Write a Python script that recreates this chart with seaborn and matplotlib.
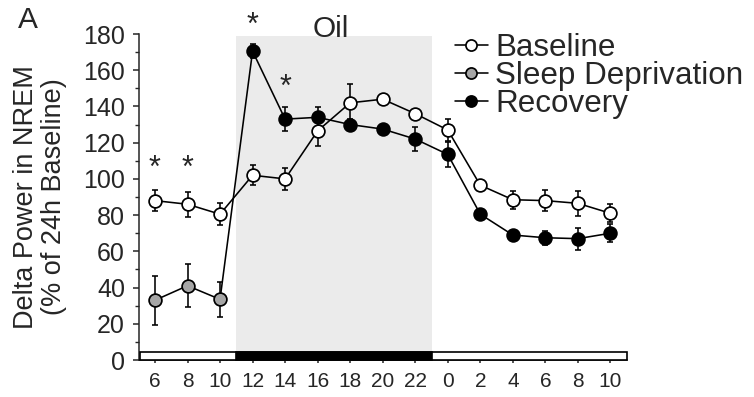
import numpy as np
import pandas as pd
import matplotlib
matplotlib.use("Agg")
import matplotlib.pyplot as plt
from matplotlib.lines import Line2D
from matplotlib.patches import Rectangle
from matplotlib.ticker import MultipleLocator
import seaborn as sns

# ---------------- data ----------------
hour_labels = ['6', '8', '10', '12', '14', '16', '18', '20', '22', '0', '2', '4', '6', '8', '10']
baseline = [88, 86, 80.5, 102, 100, 126.5, 142, 144, 136, 127, 96.5, 88.5, 88, 86.5, 81]
baseline_err = [6, 7, 6, 5.5, 6, 8.5, 10.5, 2.5, 2, 6, 2, 5, 6, 7, 5]
sd_pos = [0, 1, 2]
sleep_dep = [33, 41, 33.5]
sleep_dep_err = [13.5, 12, 9.5]
rec_pos = [3, 4, 5, 6, 7, 8, 9, 10, 11, 12, 13, 14]
recovery = [170.5, 133, 134, 130, 127.5, 122, 113.5, 80.5, 69, 67.5, 67, 70]
recovery_err = [4, 6.5, 5.5, 3, 2, 6.5, 7, 2, 2, 4, 6, 5]
star_pos = [0, 1, 3, 4]
star_y = [110, 110, 189, 155]
dark_start, dark_end = 2.5, 8.5
yticks = [0, 20, 40, 60, 80, 100, 120, 140, 160, 180]

# ---------------- style ----------------
sns.set_style("ticks")
plt.rcParams['font.family'] = ['Liberation Sans', 'DejaVu Sans']
plt.rcParams['axes.linewidth'] = 1.1

fig = plt.figure(figsize=(7.54, 3.97), dpi=100)
ax = fig.add_axes([138.7 / 754, 37 / 397, 488 / 754, 326 / 397])

x_all = np.arange(len(hour_labels))
df_base = pd.DataFrame({'x': x_all, 'y': baseline})
df_link = pd.DataFrame({'x': sd_pos + rec_pos, 'y': sleep_dep + recovery})
df_sd = pd.DataFrame({'x': sd_pos, 'y': sleep_dep})
df_rec = pd.DataFrame({'x': rec_pos, 'y': recovery})

# shaded "Oil" / dark period
ax.axvspan(dark_start, dark_end, ymin=4.4 / 180, ymax=179 / 180, color='#ebebeb', lw=0, zorder=0)

# light/dark bar at bottom
ax.add_patch(Rectangle((-0.46, 0), 14.5 + 0.46, 4.4, facecolor='white', edgecolor='black',
                       lw=1.2, zorder=3, clip_on=False))
ax.add_patch(Rectangle((dark_start, 0), dark_end - dark_start, 4.4, facecolor='black',
                       edgecolor='black', lw=1.2, zorder=3, clip_on=False))

ms, mew, lw = 9.2, 1.25, 1.15
# error bars
for xs, ys, es in [(x_all, baseline, baseline_err), (sd_pos, sleep_dep, sleep_dep_err),
                   (rec_pos, recovery, recovery_err)]:
    ax.errorbar(xs, ys, yerr=es, fmt='none', ecolor='black', elinewidth=1.15,
                capsize=2.4, capthick=1.15, zorder=2)

# lines
sns.lineplot(data=df_link, x='x', y='y', color='black', lw=lw, ax=ax, zorder=4, legend=False)
sns.lineplot(data=df_base, x='x', y='y', color='black', lw=lw, ax=ax, zorder=4, legend=False)
# markers
sns.lineplot(data=df_sd, x='x', y='y', color='black', lw=0, marker='o', markersize=ms,
             markerfacecolor='#a6a6a6', markeredgecolor='black', markeredgewidth=mew,
             ax=ax, zorder=5, legend=False)
sns.lineplot(data=df_rec, x='x', y='y', color='black', lw=0, marker='o', markersize=ms,
             markerfacecolor='black', markeredgecolor='black', markeredgewidth=mew,
             ax=ax, zorder=5, legend=False)
sns.lineplot(data=df_base, x='x', y='y', color='black', lw=0, marker='o', markersize=ms,
             markerfacecolor='white', markeredgecolor='black', markeredgewidth=mew,
             ax=ax, zorder=6, legend=False)

# asterisks
for xp, yp in zip(star_pos, star_y):
    ax.text(xp, yp - 9.0, '*', ha='center', va='baseline', fontsize=22, clip_on=False)

ax.text((dark_start + dark_end) / 2 - 0.08, 178.4, 'Oil', ha='center', va='baseline', fontsize=21.5)
fig.text(18 / 754, 1 - 28 / 397, 'A', ha='left', va='baseline', fontsize=21.5)

# axes
ax.set_xlim(-0.5, 14.5)
ax.set_ylim(0, 180)
ax.set_xticks(x_all)
ax.set_xticklabels(hour_labels)
ax.set_yticks(yticks)
ax.yaxis.set_minor_locator(MultipleLocator(10))
ax.tick_params(axis='x', length=2.2, width=1.1, pad=6.5, labelsize=15)
ax.tick_params(axis='y', which='major', length=4.3, width=1.1, pad=5.5, labelsize=18)
ax.tick_params(axis='y', which='minor', length=2.6, width=1.0)
sns.despine(ax=ax)
ax.set_xlabel('')
ax.set_ylabel('Delta Power in NREM\n(% of 24h Baseline)', fontsize=19.5, linespacing=1.12)
ax.yaxis.set_label_coords(-0.146, 0.5)

# legend
handles = [
    Line2D([], [], color='black', lw=lw, marker='o', ms=8, mfc='white', mec='black', mew=mew),
    Line2D([], [], color='black', lw=lw, marker='o', ms=8, mfc='#a6a6a6', mec='black', mew=mew),
    Line2D([], [], color='black', lw=lw, marker='o', ms=8, mfc='black', mec='black', mew=mew),
]
fig.legend(handles, ['Baseline', 'Sleep Deprivation', 'Recovery'], loc='upper left',
           bbox_to_anchor=(455 / 754, 1 - 33 / 397), frameon=False, fontsize=22.6,
           handlelength=1.05, handletextpad=0.24, labelspacing=-0.06, borderpad=0,
           borderaxespad=0)

fig.savefig('out.png', dpi=100)
